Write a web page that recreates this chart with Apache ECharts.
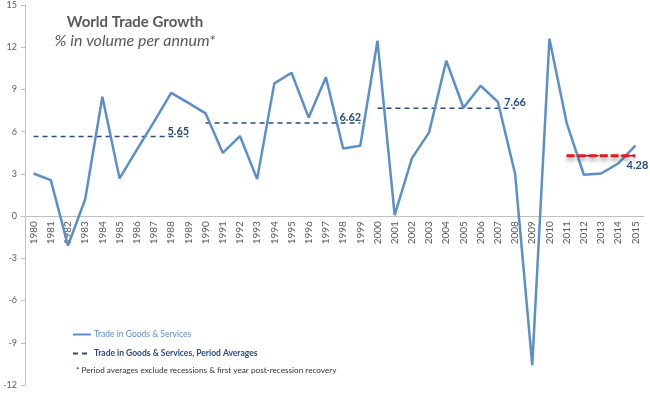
<!DOCTYPE html>
<html>
<head>
<meta charset="utf-8">
<script src="https://cdn.jsdelivr.net/npm/echarts@6/dist/echarts.min.js"></script>
<style>
  html, body { margin: 0; padding: 0; background: #fff; }
  #chart { width: 650px; height: 396px; }
</style>
</head>
<body>
<div id="chart"></div>
<script>
var years = [];
for (var y = 1980; y <= 2015; y++) years.push(String(y));

var tradeGrowth = [3.03, 2.56, -2.1, 1.2, 8.48, 2.68, 4.7, 6.7, 8.76, 8.05,
  7.3, 4.5, 5.69, 2.63, 9.43, 10.19, 7.0, 9.86, 4.81, 5.0,
  12.46, 0.07, 4.1, 5.95, 11.04, 7.7, 9.26, 8.12, 3.03, -10.59,
  12.6, 6.63, 2.94, 3.03, 3.74, 5.0];

// period averages: [first year, last year, value]
var periods = [
  ['1980', '1989', 5.65],
  ['1990', '1999', 6.62],
  ['2000', '2008', 7.66],
  ['2011', '2015', 4.28]
];
var labelShift = [[-10, 0], [-10, 0], [0, 0], [2, 0]];

var yMin = -12, yMax = 15;
var gridTop = 5, gridBottom = 11, chartH = 396;

var font = 'Lato';
var navy = '#2a4c7d';
var blue = '#5b8fc9';

function periodData(p) {
  var i0 = years.indexOf(p[0]), i1 = years.indexOf(p[1]);
  return years.map(function (yr, i) { return (i >= i0 && i <= i1) ? p[2] : null; });
}

var series = [{
  name: 'Trade in Goods & Services',
  type: 'line',
  symbol: 'none',
  data: tradeGrowth,
  lineStyle: { color: blue, width: 2.5 },
  itemStyle: { color: blue },
  z: 3
}];

periods.forEach(function (p, k) {
  var last = years.indexOf(p[1]);
  var d = periodData(p).map(function (v, i) {
    if (v === null || i !== last) return v;
    return {
      value: v,
      label: {
        show: true,
        position: k === 3 ? 'bottom' : 'top',
        distance: k === 3 ? 4 : 0,
        offset: labelShift[k],
        formatter: String(p[2]),
        color: navy,
        fontFamily: font,
        fontWeight: 'bold',
        fontSize: 11
      }
    };
  });
  series.push({
    name: 'Trade in Goods & Services, Period Averages',
    type: 'line',
    symbol: 'circle',
    symbolSize: 0,
    showSymbol: true,
    data: d,
    lineStyle: { color: navy, width: 1.5, type: [5, 4] },
    itemStyle: { color: navy },
    z: 2
  });
});

// red highlight over the latest period
series.push({
  name: 'latest',
  type: 'line',
  symbol: 'none',
  data: periodData(periods[3]),
  lineStyle: {
    color: '#e8191d', width: 3, type: [8, 3],
    shadowColor: 'rgba(0,0,0,0.4)', shadowBlur: 4, shadowOffsetY: 3
  },
  z: 4,
  silent: true
});

// the category axis sits on the zero line
var plotH = chartH - gridTop - gridBottom;
var zeroShift = -plotH * (0 - yMin) / (yMax - yMin);

var myChart = echarts.init(document.getElementById('chart'));

var option = {
  animation: false,
  title: {
    text: 'World Trade Growth',
    subtext: '% in volume per annum*',
    left: 130,
    textAlign: 'center',
    top: 10,
    itemGap: 3,
    textStyle: { fontFamily: font, fontSize: 15, fontWeight: 'bold', color: '#595959' },
    subtextStyle: { fontFamily: font, fontSize: 16, fontStyle: 'italic', color: '#595959' }
  },
  legend: {
    orient: 'vertical',
    left: 67,
    top: 325,
    itemWidth: 18,
    itemHeight: 8,
    itemGap: 10,
    itemStyle: { opacity: 0 },
    data: [
      { name: 'Trade in Goods & Services', textStyle: { color: blue } },
      { name: 'Trade in Goods & Services, Period Averages', textStyle: { color: navy, fontWeight: 'bold' } }
    ],
    textStyle: { fontFamily: font, fontSize: 8.5, padding: [0, 0, 0, -2] }
  },
  graphic: [{
    type: 'text',
    left: 76,
    top: 366,
    style: {
      text: '* Period averages exclude recessions & first year post-recession recovery',
      font: '8.2px Lato',
      fill: '#333'
    }
  }],
  grid: { left: 25, right: 6, top: gridTop, bottom: gridBottom, containLabel: false, outerBoundsMode: 'none' },
  xAxis: {
    type: 'category',
    data: years,
    boundaryGap: true,
    offset: zeroShift,
    axisLine: { onZero: false, lineStyle: { color: '#bfbfbf' } },
    axisTick: { length: 4, lineStyle: { color: '#bfbfbf' } },
    axisLabel: { rotate: 90, interval: 0, fontFamily: font, fontSize: 10, color: '#595959', margin: 5 }
  },
  yAxis: {
    type: 'value',
    min: yMin,
    max: yMax,
    interval: 3,
    splitLine: { show: false },
    axisLine: { show: true, lineStyle: { color: '#bfbfbf' } },
    axisTick: { show: true, length: 4, lineStyle: { color: '#bfbfbf' } },
    axisLabel: { fontFamily: font, fontSize: 9, color: '#595959', margin: 8 }
  },
  series: series
};

myChart.setOption(option);
</script>
</body>
</html>
